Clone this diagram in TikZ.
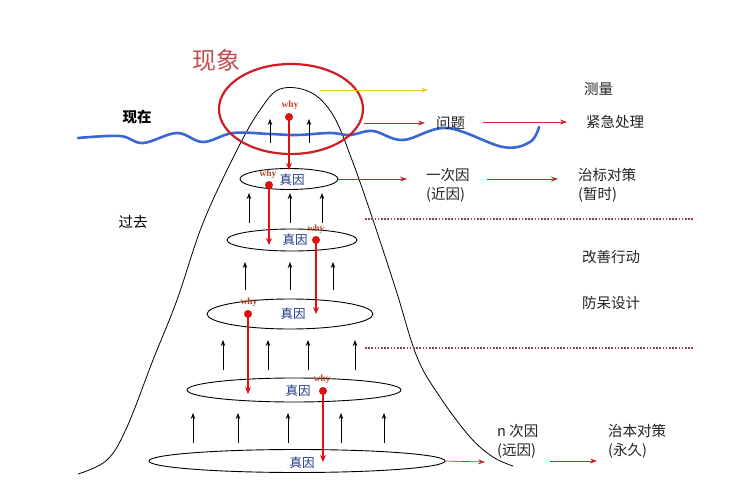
\documentclass[tikz,border=0pt]{standalone}
\usepackage{fontspec}
\setmainfont{Liberation Serif}
\newfontfamily\cjk{Noto Sans CJK SC}
\usetikzlibrary{shapes.geometric,arrows.meta}
\definecolor{wavecol}{HTML}{3A66D6}
\definecolor{circcol}{HTML}{D01C24}
\definecolor{titlecol}{HTML}{C0504D}
\definecolor{whycol}{HTML}{B8482B}
\definecolor{whyline}{HTML}{E01010}
\definecolor{zhencol}{HTML}{1F3A8A}
\definecolor{arrred}{HTML}{C8262C}
\definecolor{dotcol}{HTML}{9A3A6A}
\definecolor{yelcol}{HTML}{E8D020}
\definecolor{txtcol}{HTML}{222222}
\tikzset{
  cause/.style={draw=black, line width=0.9pt, ellipse, inner sep=0pt},
  zhen/.style={font=\cjk\fontsize{12.5}{13}\selectfont, text=zhencol, inner sep=0pt},
  whytxt/.style={font=\bfseries\fontsize{9.5}{10}\selectfont, text=whycol, inner sep=0pt},
  whyarr/.style={draw=whyline, line width=2.2pt, -{Stealth[length=7pt,width=6pt]}},
  whydot/.style={circle, fill=whyline, inner sep=0pt, minimum size=8pt},
  uparr/.style={draw=black, line width=0.7pt, -{Stealth[length=6pt,width=4.5pt]}},
  redarr/.style={draw=arrred, line width=0.7pt, -{Stealth[length=7pt,width=5pt]}},
  rtxt/.style={font=\cjk\fontsize{14.5}{19}\selectfont, text=txtcol, inner sep=0pt, align=left},
  sepline/.style={draw=dotcol, line width=1.6pt, dash pattern=on 1.6pt off 1.6pt}
}
\begin{document}
\begin{tikzpicture}[x=1pt,y=-1pt]
\useasboundingbox (0,0) rectangle (744,489);
\fill[white] (0,0) rectangle (744,489);

% mountain
\draw[line width=0.8pt] plot[smooth, tension=0.6] coordinates {
 (78,474) (107,460) (127,427) (153,360) (177,300) (203,223) (237,150) (260,110) (280,89) (310,92) (333,115) (352,160) (373,220) (396,290) (417,357) (440,397) (470,437) (493,457) (513,466)};

% blue wave
\draw[wavecol, line width=2.6pt, line cap=round] plot[smooth, tension=0.6] coordinates {
 (78,138) (120,136) (143,143) (177,133) (203,142) (233,133) (270,134) (297,135) (330,133) (350,135) (373,131) (403,140) (447,128) (503,147) (530,142) (539,127)};

% red circle
\node[draw=circcol, line width=2.2pt, ellipse, minimum width=144pt, minimum height=90pt, inner sep=0pt] (phen) at (291,109) {};
\node[font=\cjk\fontsize{24}{26}\selectfont, text=titlecol, inner sep=0pt] (phentxt) at (216,60) {现象};

% left labels
\node[font=\cjk\bfseries\fontsize{14.5}{16}\selectfont, inner sep=0pt] (now) at (137,117) {现在};
\node[font=\cjk\fontsize{14.5}{16}\selectfont, inner sep=0pt] (past) at (133,222) {过去};

% cause ellipses
\node[cause, minimum width=98pt, minimum height=21pt] (e1) at (289,179) {};
\node[cause, minimum width=130pt, minimum height=22pt] (e2) at (292,240) {};
\node[cause, minimum width=166pt, minimum height=30pt] (e3) at (290,314) {};
\node[cause, minimum width=214pt, minimum height=24pt] (e4) at (294,390) {};
\node[cause, minimum width=296pt, minimum height=23pt] (e5) at (297,461) {};

\node[zhen] (z1) at (292,180) {真因};
\node[zhen] (z2) at (295,240) {真因};
\node[zhen] (z3) at (293,314) {真因};
\node[zhen] (z4) at (298,391) {真因};
\node[zhen] (z5) at (302,463) {真因};

% why chains
\node[whytxt] (w0) at (290,105) {why};
\node[whydot] (d0) at (289,117) {};
\coordinate (t0) at (289,170);
\draw[whyarr] (d0.center) -- (t0);

\node[whytxt] (w1) at (268,174) {why};
\node[whydot] (d1) at (269,185) {};
\coordinate (t1) at (269,245);
\draw[whyarr] (d1.center) -- (t1);

\node[whytxt] (w2) at (316,229) {why};
\node[whydot] (d2) at (316,240) {};
\coordinate (t2) at (316,314);
\draw[whyarr] (d2.center) -- (t2);

\node[whytxt] (w3) at (249,302) {why};
\node[whydot] (d3) at (248,314) {};
\coordinate (t3) at (248,394);
\draw[whyarr] (d3.center) -- (t3);

\node[whytxt] (w4) at (322,379) {why};
\node[whydot] (d4) at (323,391) {};
\coordinate (t4) at (323,462);
\draw[whyarr] (d4.center) -- (t4);

% upward black arrows
\foreach \x in {270,309} \draw[uparr] (\x,143) -- (\x,119);
\foreach \x in {249,290,322} \draw[uparr] (\x,223) -- (\x,193);
\foreach \x in {245,290,333} \draw[uparr] (\x,290) -- (\x,262);
\foreach \x in {223,268,308,355} \draw[uparr] (\x,370) -- (\x,340);
\foreach \x in {193,238,288,341,384} \draw[uparr] (\x,443) -- (\x,413);

% yellow arrow
\coordinate (ys) at (320,90);
\coordinate (ye) at (428,90);
\draw[draw=yelcol, line width=0.7pt, -{Stealth[length=7pt,width=5pt]}] (ys) -- (ye);
\node[rtxt, anchor=west] (measure) at (584,89) {测量};

% problem row
\node[rtxt, anchor=west] (prob) at (436,123) {问题};
\coordinate (ps) at (364,123);
\draw[redarr] (ps) -- (425,123);
\node[rtxt, anchor=west] (urgent) at (586,122) {紧急处理};
\coordinate (us) at (483,122);
\coordinate (ue) at (567,122);
\draw[redarr] (us) -- (ue);

% first cause row
\node[rtxt, anchor=north west] (c1) at (426,168) {一次因\\(近因)};
\draw[redarr] (e1.east) -- (407,179);
\node[rtxt, anchor=north west] (m1) at (578,168) {治标对策\\(暂时)};
\draw[redarr] (487,179) -- (558,179);

% dotted separators
\coordinate (s1a) at (365,219); \coordinate (s1b) at (693,219);
\coordinate (s2a) at (365,348); \coordinate (s2b) at (693,348);
\draw[sepline] (s1a) -- (s1b);
\draw[sepline] (s2a) -- (s2b);

\node[rtxt, anchor=west] (improve) at (582,257) {改善行动};
\node[rtxt, anchor=west] (poka) at (582,303) {防呆设计};

% n-th cause row
\node[rtxt, anchor=north west] (cn) at (497,424) {n 次因\\(远因)};
\draw[redarr] (e5.east) -- (485,462);
\node[rtxt, anchor=north west] (mn) at (608,424) {治本对策\\(永久)};
\draw[redarr] (550,461) -- (597,461);
\end{tikzpicture}
\end{document}
